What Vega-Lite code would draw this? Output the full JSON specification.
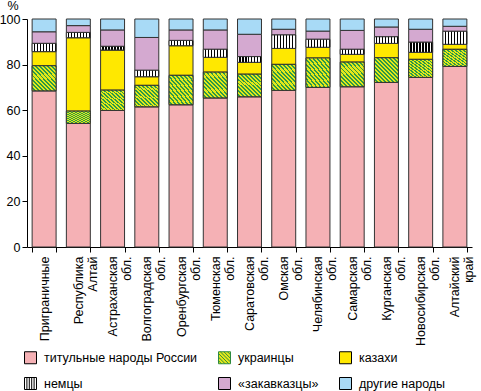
{
  "$schema": "https://vega.github.io/schema/vega-lite/v6.json",
  "autosize": "none",
  "width": 445,
  "height": 228,
  "padding": {"left": 27, "top": 19, "right": 9, "bottom": 144},
  "background": "white",
  "config": {
    "font": "Liberation Sans",
    "view": {"stroke": null},
    "axis": {"labelFontSize": 12.5, "labelColor": "#000", "domainColor": "#000", "tickColor": "#000", "titleColor": "#000", "labelFont": "Liberation Sans"}
  },
  "data": {
    "values": [
      {"r": "Приграничные", "титульные народы России": 68.5, "украинцы": 11.0, "казахи": 6.2, "немцы": 3.6, "«закавказцы»": 5.1, "другие народы": 5.6},
      {"r": "Республика|Алтай", "титульные народы России": 54.2, "украинцы": 5.4, "казахи": 32.2, "немцы": 2.3, "«закавказцы»": 3.0, "другие народы": 2.9},
      {"r": "Астраханская|обл.", "титульные народы России": 59.9, "украинцы": 8.9, "казахи": 17.6, "немцы": 1.6, "«закавказцы»": 7.2, "другие народы": 4.8},
      {"r": "Волгоградская|обл.", "титульные народы России": 61.5, "украинцы": 9.4, "казахи": 3.8, "немцы": 2.8, "«закавказцы»": 14.4, "другие народы": 8.1},
      {"r": "Оренбургская|обл.", "титульные народы России": 62.4, "украинцы": 12.9, "казахи": 13.0, "немцы": 2.3, "«закавказцы»": 4.6, "другие народы": 4.8},
      {"r": "Тюменская|обл.", "титульные народы России": 65.4, "украинцы": 11.3, "казахи": 6.5, "немцы": 3.5, "«закавказцы»": 8.5, "другие народы": 4.8},
      {"r": "Саратовская|обл.", "титульные народы России": 65.9, "украинцы": 9.9, "казахи": 5.2, "немцы": 2.5, "«закавказцы»": 9.8, "другие народы": 6.7},
      {"r": "Омская|обл.", "титульные народы России": 68.7, "украинцы": 11.4, "казахи": 7.0, "немцы": 5.9, "«закавказцы»": 2.5, "другие народы": 4.5},
      {"r": "Челябинская|обл.", "титульные народы России": 70.0, "украинцы": 12.9, "казахи": 4.7, "немцы": 3.5, "«закавказцы»": 3.6, "другие народы": 5.3},
      {"r": "Самарская|обл.", "титульные народы России": 70.3, "украинцы": 10.8, "казахи": 3.4, "немцы": 2.2, "«закавказцы»": 8.3, "другие народы": 5.0},
      {"r": "Курганская|обл.", "титульные народы России": 72.2, "украинцы": 10.8, "казахи": 6.3, "немцы": 2.9, "«закавказцы»": 4.3, "другие народы": 3.5},
      {"r": "Новосибирская|обл.", "титульные народы России": 74.4, "украинцы": 7.9, "казахи": 3.1, "немцы": 4.4, "«закавказцы»": 5.7, "другие народы": 4.5},
      {"r": "Алтайский|край", "титульные народы России": 79.2, "украинцы": 7.5, "казахи": 2.2, "немцы": 5.7, "«закавказцы»": 2.2, "другие народы": 3.2}
    ]
  },
  "transform": [
    {"fold": ["титульные народы России", "украинцы", "казахи", "немцы", "«закавказцы»", "другие народы"], "as": ["s", "v"]},
    {"calculate": "indexof(['титульные народы России', 'украинцы', 'казахи', 'немцы', '«закавказцы»', 'другие народы'], datum.s)", "as": "o"},
    {"stack": "v", "groupby": ["r"], "sort": [{"field": "o", "order": "ascending"}], "as": ["y0", "y1"]}
  ],
  "encoding": {
    "x": {
      "field": "r", "type": "nominal", "sort": null,
      "scale": {"paddingInner": 0.3, "paddingOuter": 0.15},
      "axis": {"title": null, "labelExpr": "split(datum.label, '|')", "labelAngle": 270, "labelAlign": "right", "labelBaseline": "middle", "labelLineHeight": 14, "labelPadding": 4, "tickBand": "extent", "tickSize": 5, "domainColor": "#000"}
    },
    "y": {
      "field": "y0", "type": "quantitative",
      "scale": {"domain": [0, 100], "nice": false},
      "axis": {"values": [0, 20, 40, 60, 80, 100], "grid": false, "tickSize": 5, "title": "%", "titleAngle": 0, "titleX": -20, "titleY": -10, "titleAlign": "left", "titleBaseline": "alphabetic", "titleFontSize": 12.5, "titleFontWeight": "normal", "labelPadding": 2}
    },
    "y2": {"field": "y1"}
  },
  "layer": [
    {
      "mark": {"type": "bar", "stroke": "#333", "strokeWidth": 1},
      "encoding": {
        "color": {
          "field": "s", "type": "nominal",
          "scale": {"domain": ["титульные народы России", "немцы", "украинцы", "«закавказцы»", "казахи", "другие народы"], "range": ["#f5b1b5", "#ffffff", "#e4e81a", "#d4a9d0", "#ffe800", "#a8daf6"]},
          "legend": {
            "title": null, "orient": "none", "legendX": -3, "legendY": 332, "columns": 3, "gridAlign": "each", "columnPadding": 18, "rowPadding": 9,
            "symbolType": "square", "symbolSize": 144, "symbolStrokeColor": "#000", "symbolStrokeWidth": 1, "symbolOpacity": 1,
            "labelFontSize": 12.5, "labelOffset": 7, "labelColor": "#000", "labelLimit": 300,
            "labelExpr": "datum.label === '«закавказцы»' ? datum.label + '\u00a0\u00a0\u00a0\u00a0\u00a0\u00a0\u00a0\u00a0\u00a0\u00a0\u00a0\u00a0' : datum.label",
            "encode": {
              "symbols": {
                "update": {
                  "stroke": {"signal": "datum.value === 'украинцы' ? '#2e8a40' : '#000000'"},
                  "strokeWidth": {"value": 1},
                  "shape": {"signal": "datum.value === 'немцы' ? 'M-1,-1H1V1H-1ZM-0.6,-1V1M-0.2,-1V1M0.2,-1V1M0.6,-1V1' : datum.value === 'украинцы' ? 'M-1,-1H1V1H-1ZM0.5,-1L1,-0.5M-0.1,-1L1,0.1M-0.7,-1L1,0.7M-1,-0.7L0.7,1M-1,-0.1L0.1,1M-1,0.5L-0.5,1' : 'square'"}
                }
              }
            }
          }
        }
      }
    },
    {
      "transform": [{"filter": "datum.s === 'украинцы'"}],
      "mark": {"type": "bar", "stroke": "#333", "strokeWidth": 1, "fill": {"gradient": "linear", "x1": 0, "y1": 1, "x2": 1, "y2": 0, "stops": [
        {"offset": 0, "color": "#e4e81a"}, {"offset": 0.04583, "color": "#e4e81a"}, {"offset": 0.04583, "color": "#2e9a46"}, {"offset": 0.08333, "color": "#2e9a46"},
        {"offset": 0.08333, "color": "#e4e81a"}, {"offset": 0.12917, "color": "#e4e81a"}, {"offset": 0.12917, "color": "#2e9a46"}, {"offset": 0.16667, "color": "#2e9a46"},
        {"offset": 0.16667, "color": "#e4e81a"}, {"offset": 0.2125, "color": "#e4e81a"}, {"offset": 0.2125, "color": "#2e9a46"}, {"offset": 0.25, "color": "#2e9a46"},
        {"offset": 0.25, "color": "#e4e81a"}, {"offset": 0.29583, "color": "#e4e81a"}, {"offset": 0.29583, "color": "#2e9a46"}, {"offset": 0.33333, "color": "#2e9a46"},
        {"offset": 0.33333, "color": "#e4e81a"}, {"offset": 0.37917, "color": "#e4e81a"}, {"offset": 0.37917, "color": "#2e9a46"}, {"offset": 0.41667, "color": "#2e9a46"},
        {"offset": 0.41667, "color": "#e4e81a"}, {"offset": 0.4625, "color": "#e4e81a"}, {"offset": 0.4625, "color": "#2e9a46"}, {"offset": 0.5, "color": "#2e9a46"},
        {"offset": 0.5, "color": "#e4e81a"}, {"offset": 0.54583, "color": "#e4e81a"}, {"offset": 0.54583, "color": "#2e9a46"}, {"offset": 0.58333, "color": "#2e9a46"},
        {"offset": 0.58333, "color": "#e4e81a"}, {"offset": 0.62917, "color": "#e4e81a"}, {"offset": 0.62917, "color": "#2e9a46"}, {"offset": 0.66667, "color": "#2e9a46"},
        {"offset": 0.66667, "color": "#e4e81a"}, {"offset": 0.7125, "color": "#e4e81a"}, {"offset": 0.7125, "color": "#2e9a46"}, {"offset": 0.75, "color": "#2e9a46"},
        {"offset": 0.75, "color": "#e4e81a"}, {"offset": 0.79583, "color": "#e4e81a"}, {"offset": 0.79583, "color": "#2e9a46"}, {"offset": 0.83333, "color": "#2e9a46"},
        {"offset": 0.83333, "color": "#e4e81a"}, {"offset": 0.87917, "color": "#e4e81a"}, {"offset": 0.87917, "color": "#2e9a46"}, {"offset": 0.91667, "color": "#2e9a46"},
        {"offset": 0.91667, "color": "#e4e81a"}, {"offset": 0.9625, "color": "#e4e81a"}, {"offset": 0.9625, "color": "#2e9a46"}, {"offset": 1, "color": "#2e9a46"}
      ]}},
      "encoding": {}
    },
    {
      "transform": [{"filter": "datum.s === 'немцы'"}],
      "mark": {"type": "bar", "stroke": "#333", "strokeWidth": 1, "fill": {"gradient": "linear", "x1": 0, "y1": 0, "x2": 1, "y2": 0, "stops": [
        {"offset": 0, "color": "#ffffff"}, {"offset": 0.075, "color": "#ffffff"}, {"offset": 0.075, "color": "#000000"}, {"offset": 0.125, "color": "#000000"},
        {"offset": 0.125, "color": "#ffffff"}, {"offset": 0.2, "color": "#ffffff"}, {"offset": 0.2, "color": "#000000"}, {"offset": 0.25, "color": "#000000"},
        {"offset": 0.25, "color": "#ffffff"}, {"offset": 0.325, "color": "#ffffff"}, {"offset": 0.325, "color": "#000000"}, {"offset": 0.375, "color": "#000000"},
        {"offset": 0.375, "color": "#ffffff"}, {"offset": 0.45, "color": "#ffffff"}, {"offset": 0.45, "color": "#000000"}, {"offset": 0.5, "color": "#000000"},
        {"offset": 0.5, "color": "#ffffff"}, {"offset": 0.575, "color": "#ffffff"}, {"offset": 0.575, "color": "#000000"}, {"offset": 0.625, "color": "#000000"},
        {"offset": 0.625, "color": "#ffffff"}, {"offset": 0.7, "color": "#ffffff"}, {"offset": 0.7, "color": "#000000"}, {"offset": 0.75, "color": "#000000"},
        {"offset": 0.75, "color": "#ffffff"}, {"offset": 0.825, "color": "#ffffff"}, {"offset": 0.825, "color": "#000000"}, {"offset": 0.875, "color": "#000000"},
        {"offset": 0.875, "color": "#ffffff"}, {"offset": 0.95, "color": "#ffffff"}, {"offset": 0.95, "color": "#000000"}, {"offset": 1, "color": "#000000"}
      ]}},
      "encoding": {}
    }
  ]
}
